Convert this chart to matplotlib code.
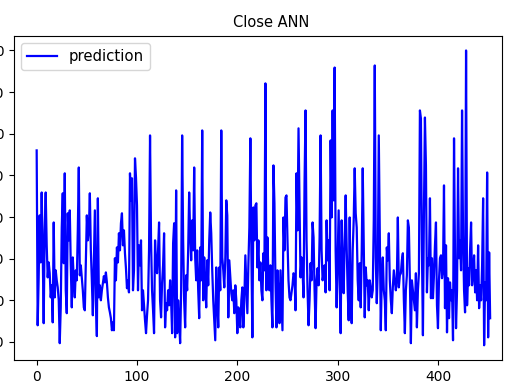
import matplotlib
matplotlib.use("Agg")
import matplotlib.pyplot as plt

# predicted close values, one per test sample
prediction = [
    56.0, 14.0, 25.5, 40.4, 29.1, 45.9, 32.0, 14.5, 36.8, 45.9,
    33.2, 25.5, 29.1, 26.5, 20.7, 23.6, 14.7, 38.7, 20.7, 27.2,
    24.8, 23.1, 20.0, 9.7, 18.3, 37.5, 45.7, 28.9, 50.5, 22.4,
    16.9, 40.9, 34.4, 41.6, 28.4, 18.3, 30.3, 24.8, 20.7, 27.2,
    24.8, 36.8, 51.9, 26.0, 28.4, 25.3, 22.4, 18.3, 17.6, 29.6,
    40.4, 34.4, 36.8, 45.7, 32.0, 24.8, 16.4, 29.1, 41.6, 20.0,
    11.4, 44.5, 20.7, 23.6, 20.0, 22.4, 24.1, 25.8, 24.3, 26.7,
    24.3, 20.7, 18.3, 17.1, 15.7, 12.8, 14.7, 12.8, 30.1, 24.8,
    32.7, 29.1, 36.1, 32.0, 38.5, 40.9, 33.2, 36.8, 31.3, 27.7,
    22.9, 24.8, 21.9, 50.5, 44.0, 49.3, 22.4, 27.2, 54.1, 49.5,
    42.8, 22.4, 33.2, 28.4, 34.4, 17.6, 22.4, 18.8, 15.2, 12.1,
    16.4, 20.0, 32.0, 59.6, 34.4, 22.4, 17.6, 12.1, 34.4, 28.4,
    26.5, 32.0, 38.7, 20.0, 15.9, 24.1, 28.4, 36.1, 13.5, 19.3,
    17.6, 22.4, 18.8, 24.8, 20.0, 12.1, 33.7, 38.5, 11.1, 46.4,
    12.1, 20.0, 15.2, 9.7, 22.4, 59.6, 34.4, 20.0, 13.5, 26.0,
    22.4, 32.0, 45.9, 36.1, 29.6, 39.2, 32.0, 51.9, 30.3, 24.8,
    32.0, 22.4, 15.7, 32.7, 24.8, 60.8, 20.0, 30.3, 23.6, 18.3,
    29.6, 23.6, 34.4, 41.1, 36.1, 27.2, 20.0, 15.2, 10.4, 27.9,
    20.0, 13.5, 27.9, 22.4, 60.8, 30.3, 27.2, 23.1, 29.6, 44.0,
    40.4, 15.9, 29.6, 25.5, 21.7, 20.0, 22.4, 16.9, 23.6, 20.0,
    12.1, 18.3, 15.2, 13.5, 20.0, 23.1, 13.5, 20.0, 30.8, 23.6,
    16.9, 28.4, 37.5, 58.9, 32.0, 11.1, 42.3, 34.4, 42.8, 43.3,
    27.9, 34.4, 24.8, 29.1, 22.4, 20.0, 31.3, 27.2, 72.1, 22.4,
    35.1, 26.0, 22.4, 28.4, 20.0, 13.5, 52.4, 43.3, 24.8, 13.5,
    27.2, 21.2, 14.5, 27.2, 20.0, 12.8, 39.9, 32.0, 44.7, 45.2,
    34.4, 24.8, 20.7, 20.0, 21.9, 23.6, 26.5, 26.0, 17.6, 50.5,
    36.8, 61.3, 44.0, 25.5, 30.3, 27.2, 20.7, 48.1, 65.6, 34.4,
    22.4, 14.0, 20.0, 28.9, 24.8, 38.7, 35.1, 22.4, 13.3, 24.8,
    27.7, 23.6, 35.1, 59.6, 32.0, 24.8, 26.5, 28.4, 21.9, 39.2,
    29.6, 34.4, 22.4, 58.4, 39.9, 65.6, 44.0, 75.9, 32.0, 18.3,
    29.6, 41.6, 24.8, 12.1, 39.2, 28.4, 21.7, 34.4, 45.2, 32.7,
    22.4, 15.2, 39.9, 20.0, 14.5, 32.0, 39.2, 51.7, 40.9, 37.5,
    24.8, 20.0, 28.9, 18.3, 32.0, 51.7, 34.4, 15.9, 27.9, 23.6,
    24.8, 17.6, 24.8, 23.1, 20.7, 22.4, 39.2, 76.4, 30.3, 19.3,
    27.2, 59.6, 36.8, 12.8, 25.5, 30.3, 22.4, 20.0, 12.8, 32.7,
    29.6, 36.1, 24.8, 20.0, 16.9, 23.1, 27.2, 24.8, 22.4, 24.8,
    39.9, 23.1, 26.0, 26.5, 29.6, 31.3, 20.0, 12.1, 22.4, 26.0,
    39.2, 37.5, 24.8, 9.7, 24.8, 22.4, 20.0, 17.6, 26.5, 13.5,
    22.4, 26.5, 65.6, 63.7, 32.0, 11.6, 41.1, 63.9, 52.4, 21.9,
    30.1, 28.4, 44.5, 20.5, 30.1, 20.5, 26.0, 33.2, 38.7, 18.8,
    13.3, 24.8, 30.1, 30.8, 25.3, 27.2, 47.6, 18.1, 33.2, 12.3,
    25.3, 15.7, 24.3, 20.0, 22.4, 10.4, 58.9, 30.1, 13.3, 22.4,
    51.7, 30.1, 34.4, 27.2, 65.6, 35.6, 22.4, 17.1, 80.0, 18.8,
    27.7, 23.6, 32.0, 38.7, 23.6, 26.7, 30.8, 21.9, 27.2, 20.0,
    33.2, 18.1, 23.6, 20.0, 28.4, 44.5, 9.2, 24.3, 20.0, 50.7,
    11.1, 31.5, 15.7,
]
sample_index = list(range(len(prediction)))

fig = plt.figure(figsize=(5.07, 3.85), dpi=100)
ax = fig.add_axes([0.0276, 0.0649, 0.9625, 0.8423])
ax.plot(sample_index, prediction, color="b", linewidth=1.6, label="prediction")
ax.set_xlim(-22.6, 463.8)
ax.set_title("Close ANN", fontsize=10.5, x=0.527)
ax.tick_params(labelsize=10)
ax.legend(loc="upper left", fontsize=10.7)
fig.savefig("out.png", dpi=100)
